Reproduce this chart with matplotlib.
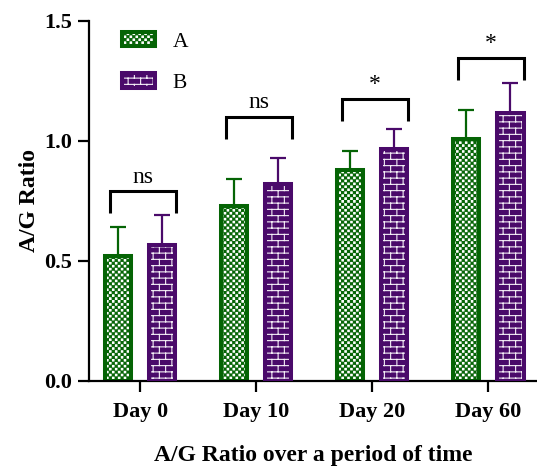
import numpy as np
import matplotlib
matplotlib.use('Agg')
import matplotlib.pyplot as plt
import matplotlib.hatch as mhatch
from matplotlib.path import Path
from matplotlib.legend_handler import HandlerTuple

# ---------------- data ----------------
categories = ['Day 0', 'Day 10', 'Day 20', 'Day 60']
series_names = ['A', 'B']
values_a = [0.52, 0.73, 0.88, 1.01]
errors_a = [0.12, 0.11, 0.08, 0.12]
values_b = [0.565, 0.82, 0.965, 1.115]
errors_b = [0.125, 0.11, 0.085, 0.125]
sig_labels = ['ns', 'ns', '*', '*']
bracket_tops = [0.79, 1.10, 1.175, 1.345]
y_ticks = [0.0, 0.5, 1.0, 1.5]
y_tick_labels = ['0.0', '0.5', '1.0', '1.5']


# ---------------- custom hatches ----------------
class BrickHatch(mhatch.HatchPatternBase):
    rows = 16
    cols = 8

    def __init__(self, hatch, density):
        segs = []
        if 'o' in hatch:
            r, c = self.rows, self.cols
            for i in range(r):
                y0 = (i + 0.5) / r
                y1 = y0 + 1.0 / r
                segs.append(((0.0, y0), (1.0, y0)))
                for j in range(c):
                    xx = (j + 0.25 + 0.5 * (i % 2)) / c
                    if y1 > 1.0:
                        segs.append(((xx, y0), (xx, 1.0)))
                        segs.append(((xx, 0.0), (xx, y1 - 1.0)))
                    else:
                        segs.append(((xx, y0), (xx, y1)))
        self.segs = segs
        self.num_vertices = 2 * len(segs)

    def set_vertices_and_codes(self, vertices, codes):
        for k, (p0, p1) in enumerate(self.segs):
            vertices[2 * k] = p0
            vertices[2 * k + 1] = p1
            codes[2 * k] = Path.MOVETO
            codes[2 * k + 1] = Path.LINETO


class CheckerHatch(mhatch.HatchPatternBase):
    n = 34

    def __init__(self, hatch, density):
        self.on = 'O' in hatch
        self.num_vertices = (self.n * self.n // 2) * 5 if self.on else 0

    def set_vertices_and_codes(self, vertices, codes):
        n = self.n
        c = 1.0 / n
        s = c * 0.72
        k = 0
        for i in range(n):
            for j in range(n):
                if (i + j) % 2:
                    continue
                x0 = j * c + (c - s) / 2
                y0 = i * c + (c - s) / 2
                vertices[k:k + 5] = [(x0, y0), (x0 + s, y0), (x0 + s, y0 + s),
                                     (x0, y0 + s), (x0, y0)]
                codes[k] = Path.MOVETO
                codes[k + 1:k + 4] = Path.LINETO
                codes[k + 4] = Path.CLOSEPOLY
                k += 5


mhatch._hatch_types = [h for h in mhatch._hatch_types
                       if h not in (mhatch.SmallCircles, mhatch.LargeCircles)] \
    + [BrickHatch, CheckerHatch]

plt.rcParams['font.family'] = ['Liberation Serif', 'DejaVu Serif']
plt.rcParams['hatch.linewidth'] = 0.8

green = '#056405'
purple = '#4a0a6a'

fig = plt.figure(figsize=(5.37, 4.70), dpi=100)
ax = fig.add_axes([89 / 537, 89 / 470, 448 / 537, 360 / 470])

x = np.arange(len(categories))
off = 0.19
w = 0.228

bars_a = ax.bar(x - off, values_a, w, facecolor='white', edgecolor=green,
                linewidth=2.9, hatch='O', zorder=2)
bars_b_fill = ax.bar(x + off, values_b, w, facecolor=purple, edgecolor='#f4eef6',
                     linewidth=0, hatch='o', zorder=2)
bars_b_edge = ax.bar(x + off, values_b, w, fill=False, edgecolor=purple,
                     linewidth=2.9, zorder=3)

ax.errorbar(x - off, values_a, yerr=[np.zeros(len(x)), errors_a], fmt='none',
            ecolor=green, elinewidth=1.6, capsize=6, capthick=1.6, zorder=1)
ax.errorbar(x + off, values_b, yerr=[np.zeros(len(x)), errors_b], fmt='none',
            ecolor=purple, elinewidth=1.6, capsize=6, capthick=1.6, zorder=1)

for i, (top, lab) in enumerate(zip(bracket_tops, sig_labels)):
    xl, xr = x[i] - 0.26, x[i] + 0.31
    ax.plot([xl, xl, xr, xr], [top - 0.09, top, top, top - 0.09], color='black',
            lw=2.2, solid_joinstyle='miter', solid_capstyle='butt', clip_on=False)
    ax.text((xl + xr) / 2, top + 0.037, lab, ha='center', va='baseline',
            fontsize=17)

ax.set_xlim(-0.44, 3.42)
ax.set_ylim(0, 1.5)
for sp in ['top', 'right']:
    ax.spines[sp].set_visible(False)
for sp in ['left', 'bottom']:
    ax.spines[sp].set_linewidth(1.6)
ax.set_yticks(y_ticks, y_tick_labels)
ax.set_xticks(x, categories)
ax.tick_params(width=1.6, length=8, labelsize=16)
ax.tick_params(axis='x', pad=7)
ax.tick_params(axis='y', pad=4)
for lab in ax.get_xticklabels() + ax.get_yticklabels():
    lab.set_fontweight('bold')
ax.set_xlabel('A/G Ratio over a period of time', fontsize=17,
              fontweight='bold', labelpad=17)
ax.set_ylabel('A/G Ratio', fontsize=17, fontweight='bold', labelpad=3)

ax.legend([bars_a[0], (bars_b_fill[0], bars_b_edge[0])], series_names,
          loc='upper left', bbox_to_anchor=(33 / 448, 1 - 11 / 360),
          frameon=False, fontsize=15.5, handlelength=1.55, handleheight=0.65,
          handletextpad=0.8, labelspacing=1.0, borderpad=0, borderaxespad=0,
          handler_map={tuple: HandlerTuple(ndivide=1)})

fig.savefig('out.png', dpi=100)
